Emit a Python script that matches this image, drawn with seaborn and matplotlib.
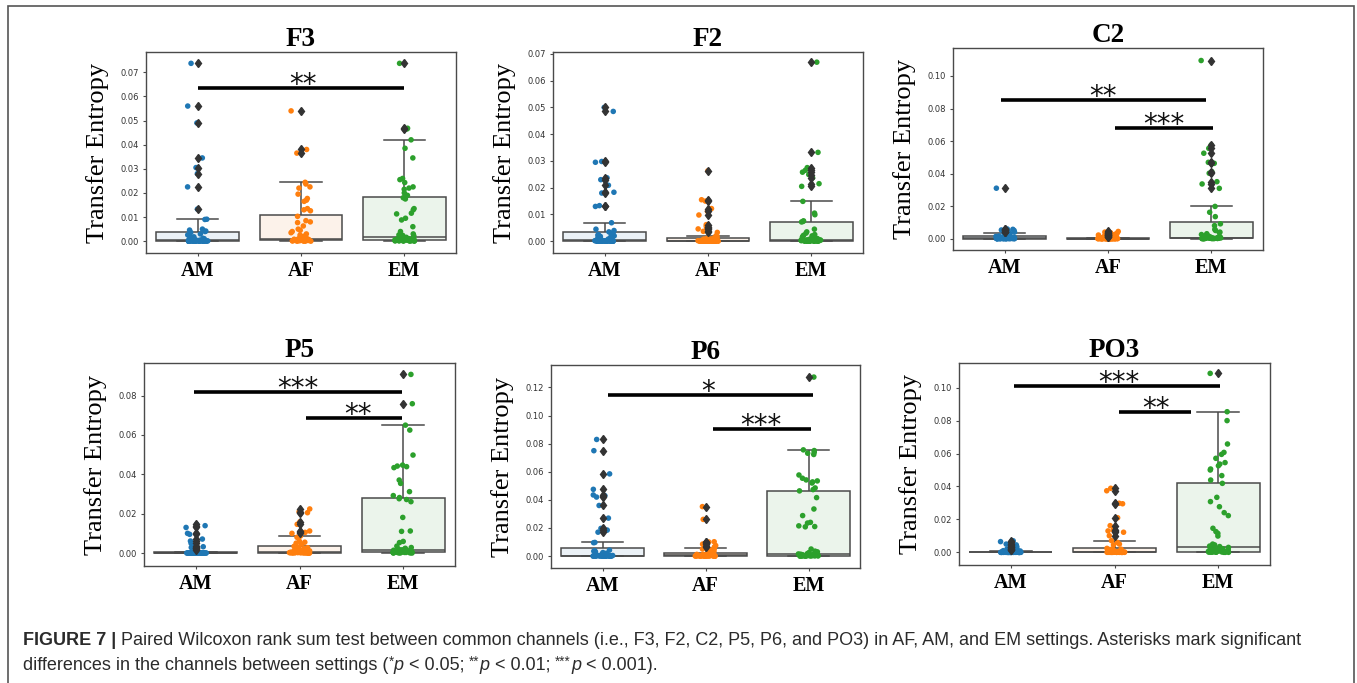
import numpy as np
import pandas as pd
import matplotlib
matplotlib.use("Agg")
import matplotlib.pyplot as plt
from matplotlib.patches import Rectangle
from matplotlib.ticker import MultipleLocator, FormatStrFormatter
import seaborn as sns

# transfer entropy per subject pair, in units of 1e-3
F3_AM = [73.7, 56.0, 49.0, 34.5, 30.5, 28.0, 22.5, 13.3, 9.1, 9.0, 5.0, 4.6, 4.2, 4.0,
         3.6, 3.0, 2.6, 2.2, 1.8, 1.5, 1.2, 1.0, 0.9, 0.8, 0.7, 0.6, 0.5, 0.4,
         0.3, 0.3, 0.2, 0.2, 0.2, 0.2, 0.1, 0.1, 0.1, 0.1, 0.1, 0.1, 0, 0,
         0, 0, 0, 0, 0, 0, 0, 0, 0, 0, 0, 0, 0, 0]
F3_AF = [54.0, 38.0, 36.5, 24.4, 23.7, 22.5, 22.0, 19.5, 17.7, 17.0, 16.5, 13.5, 13.0, 12.6,
         10.3, 8.5, 8.0, 7.7, 6.3, 5.0, 4.5, 4.0, 3.5, 3.0, 2.5, 2.0, 1.5, 1.1,
         0.9, 0.8, 0.8, 0.7, 0.7, 0.7, 0.6, 0.6, 0.6, 0.5, 0.5, 0.5, 0.5, 0.4,
         0.4, 0.4, 0.3, 0.3, 0.3, 0.2, 0.2, 0.2, 0.1, 0.1, 0.1, 0, 0, 0]
F3_EM = [73.7, 46.8, 46.5, 42.0, 38.5, 34.5, 26.0, 25.5, 24.3, 22.5, 22.0, 21.5, 20.0, 19.0,
         18.0, 17.5, 13.5, 13.0, 11.6, 11.3, 9.5, 8.8, 6.0, 4.0, 3.0, 2.6, 2.4, 2.2,
         1.6, 1.3, 1.2, 1.0, 1.0, 0.9, 0.8, 0.8, 0.7, 0.7, 0.6, 0.6, 0.5, 0.5,
         0.5, 0.4, 0.4, 0.4, 0.3, 0.3, 0.3, 0.2, 0.2, 0.1, 0.1, 0, 0, 0]

F2_AM = [50.0, 48.5, 29.8, 29.5, 23.7, 23.0, 20.9, 18.3, 18.0, 13.3, 13.0, 6.9, 4.5, 4.0,
         3.5, 3.2, 2.8, 2.5, 2.2, 2.0, 1.8, 1.5, 1.2, 1.0, 0.8, 0.6, 0.5, 0.4,
         0.3, 0.3, 0.2, 0.2, 0.2, 0.2, 0.1, 0.1, 0.1, 0.1, 0.1, 0.1, 0, 0,
         0, 0, 0, 0, 0, 0, 0, 0, 0, 0, 0, 0, 0, 0]
F2_AF = [26.3, 15.5, 15.0, 12.2, 11.2, 9.8, 6.2, 5.5, 5.0, 4.6, 3.7, 3.3, 2.0, 1.8,
         1.1, 1.0, 0.9, 0.8, 0.8, 0.7, 0.6, 0.5, 0.5, 0.4, 0.4, 0.3, 0.3, 0.3,
         0.2, 0.2, 0.2, 0.2, 0.1, 0.1, 0.1, 0.1, 0.1, 0.1, 0, 0, 0, 0,
         0, 0, 0, 0, 0, 0, 0, 0, 0, 0, 0, 0, 0, 0]
F2_EM = [66.9, 33.2, 27.5, 26.5, 25.8, 24.9, 23.7, 21.5, 20.5, 14.9, 10.5, 9.9, 7.6, 7.4,
         7.2, 4.5, 3.5, 3.0, 2.5, 2.2, 2.0, 1.8, 1.5, 1.2, 1.0, 0.8, 0.7, 0.6,
         0.5, 0.5, 0.5, 0.4, 0.4, 0.4, 0.4, 0.3, 0.3, 0.3, 0.3, 0.2, 0.2, 0.2,
         0.2, 0.2, 0.1, 0.1, 0.1, 0.1, 0.1, 0, 0, 0, 0, 0, 0, 0]

C2_AM = [31.0, 5.9, 5.7, 5.3, 5.0, 4.6, 4.3, 4.0, 3.8, 3.3, 2.8, 2.4, 2.0, 1.6,
         1.35, 1.2, 1.1, 1.0, 0.9, 0.8, 0.7, 0.6, 0.5, 0.5, 0.4, 0.4, 0.3, 0.3,
         0.2, 0.2, 0.2, 0.2, 0.1, 0.1, 0.1, 0.1, 0.1, 0.1, 0, 0, 0, 0,
         0, 0, 0, 0, 0, 0, 0, 0, 0, 0, 0, 0, 0, 0]
C2_AF = [4.4, 4.0, 3.6, 3.3, 3.0, 2.8, 2.5, 2.2, 2.0, 1.8, 1.5, 1.3, 1.0, 0.6,
         0.2, 0.2, 0.2, 0.1, 0.1, 0.1, 0.1, 0, 0, 0, 0, 0, 0, 0,
         0, 0, 0, 0, 0, 0, 0, 0, 0, 0, 0, 0, 0, 0,
         0, 0, 0, 0, 0, 0, 0, 0, 0, 0, 0, 0, 0, 0]
C2_EM = [109.5, 57.6, 55.5, 52.5, 46.9, 46.3, 41.2, 40.2, 35.0, 33.6, 30.9, 19.8, 16.2, 13.5,
         9.1, 8.0, 5.7, 5.0, 4.0, 3.5, 3.0, 2.5, 2.0, 1.6, 1.3, 1.0, 0.8, 0.7,
         0.6, 0.6, 0.5, 0.5, 0.5, 0.4, 0.4, 0.4, 0.4, 0.3, 0.3, 0.3, 0.3, 0.3,
         0.2, 0.2, 0.2, 0.2, 0.1, 0.1, 0.1, 0.1, 0, 0, 0, 0, 0, 0]

P5_AM = [14.6, 13.9, 13.0, 10.0, 9.5, 7.1, 6.1, 4.9, 3.6, 3.2, 2.8, 2.5, 2.0, 1.6,
         0.1, 0.1, 0.1, 0.1, 0, 0, 0, 0, 0, 0, 0, 0, 0, 0,
         0, 0, 0, 0, 0, 0, 0, 0, 0, 0, 0, 0, 0, 0,
         0, 0, 0, 0, 0, 0, 0, 0, 0, 0, 0, 0, 0, 0]
P5_AF = [22.4, 21.0, 20.5, 15.9, 14.6, 11.2, 10.5, 10.0, 8.6, 8.0, 6.0, 5.5, 5.0, 4.5,
         3.4, 3.0, 2.7, 2.4, 2.0, 1.8, 1.5, 1.3, 1.1, 1.0, 0.9, 0.8, 0.7, 0.6,
         0.5, 0.5, 0.5, 0.4, 0.4, 0.4, 0.4, 0.3, 0.3, 0.3, 0.3, 0.3, 0.2, 0.2,
         0.2, 0.2, 0.2, 0.1, 0.1, 0.1, 0.1, 0.1, 0, 0, 0, 0, 0, 0]
P5_EM = [90.8, 75.9, 65.0, 62.5, 49.8, 44.7, 44.2, 43.9, 43.4, 37.1, 35.4, 31.2, 29.2, 28.2,
         27.6, 27.2, 26.1, 18.1, 11.2, 11.0, 5.9, 5.3, 3.5, 2.8, 2.4, 2.0, 1.8, 1.6,
         1.4, 1.3, 1.2, 1.1, 1.0, 0.9, 0.8, 0.8, 0.7, 0.7, 0.6, 0.6, 0.5, 0.5,
         0.4, 0.4, 0.4, 0.3, 0.3, 0.3, 0.2, 0.2, 0.2, 0.1, 0.1, 0, 0, 0]

P6_AM = [83.0, 75.0, 58.5, 47.5, 43.5, 43.0, 42.0, 36.0, 27.0, 19.7, 18.5, 17.0, 9.7, 9.5,
         4.2, 3.8, 3.5, 3.0, 2.5, 2.0, 1.6, 1.3, 1.0, 0.8, 0.6, 0.5, 0.4, 0.4,
         0.3, 0.3, 0.2, 0.2, 0.2, 0.2, 0.1, 0.1, 0.1, 0.1, 0.1, 0.1, 0, 0,
         0, 0, 0, 0, 0, 0, 0, 0, 0, 0, 0, 0, 0, 0]
P6_AF = [35.2, 26.1, 10.2, 10.0, 9.0, 8.5, 7.5, 6.5, 5.7, 5.5, 5.0, 4.5, 4.0, 3.5,
         2.0, 1.8, 1.6, 1.5, 1.3, 1.2, 1.0, 0.9, 0.8, 0.7, 0.6, 0.6, 0.5, 0.5,
         0.4, 0.4, 0.3, 0.3, 0.3, 0.2, 0.2, 0.2, 0.2, 0.1, 0.1, 0.1, 0.1, 0.1,
         0.1, 0, 0, 0, 0, 0, 0, 0, 0, 0, 0, 0, 0, 0]
P6_EM = [127.4, 75.6, 75.1, 73.9, 73.2, 72.3, 57.7, 55.4, 54.2, 53.5, 52.8, 52.0, 48.5, 47.3,
         46.4, 41.6, 33.5, 28.8, 24.0, 23.5, 21.5, 21.0, 20.8, 5.0, 3.5, 3.0, 2.5, 1.8,
         1.5, 1.3, 1.2, 1.0, 1.0, 0.9, 0.8, 0.7, 0.7, 0.6, 0.5, 0.5, 0.4, 0.4,
         0.3, 0.3, 0.3, 0.2, 0.2, 0.2, 0.1, 0.1, 0.1, 0, 0, 0, 0, 0]

PO3_AM = [7.0, 6.5, 5.0, 4.5, 3.8, 3.4, 3.0, 2.6, 2.2, 2.0, 1.6, 1.3, 1.0, 0.8,
          0.3, 0.2, 0.2, 0.1, 0.1, 0.1, 0.1, 0.1, 0, 0, 0, 0, 0, 0,
          0, 0, 0, 0, 0, 0, 0, 0, 0, 0, 0, 0, 0, 0,
          0, 0, 0, 0, 0, 0, 0, 0, 0, 0, 0, 0, 0, 0]
PO3_AF = [38.9, 37.4, 29.8, 29.5, 21.0, 16.2, 13.6, 13.0, 12.2, 10.1, 7.1, 6.0, 5.0, 4.5,
          2.4, 2.1, 1.9, 1.7, 1.5, 1.3, 1.2, 1.0, 0.9, 0.8, 0.7, 0.6, 0.6, 0.5,
          0.4, 0.4, 0.3, 0.3, 0.3, 0.2, 0.2, 0.2, 0.1, 0.1, 0.1, 0.1, 0.1, 0.1,
          0, 0, 0, 0, 0, 0, 0, 0, 0, 0, 0, 0, 0, 0]
PO3_EM = [108.7, 85.4, 80.0, 65.8, 60.7, 59.5, 57.1, 54.5, 53.6, 52.6, 50.6, 50.0, 46.6, 43.9,
          41.9, 33.4, 30.8, 27.7, 24.1, 22.3, 14.6, 12.6, 11.5, 9.9, 5.0, 4.5, 3.8, 3.5,
          3.0, 2.5, 2.2, 2.0, 1.8, 1.6, 1.4, 1.2, 1.0, 0.9, 0.8, 0.7, 0.6, 0.5,
          0.4, 0.4, 0.3, 0.3, 0.3, 0.2, 0.2, 0.2, 0.1, 0.1, 0.1, 0, 0, 0]

channels = ["F3", "F2", "C2", "P5", "P6", "PO3"]
settings = ["AM", "AF", "EM"]
te_values = {
    "F3": [F3_AM, F3_AF, F3_EM],
    "F2": [F2_AM, F2_AF, F2_EM],
    "C2": [C2_AM, C2_AF, C2_EM],
    "P5": [P5_AM, P5_AF, P5_EM],
    "P6": [P6_AM, P6_AF, P6_EM],
    "PO3": [PO3_AM, PO3_AF, PO3_EM],
}

# significance bars: (from, to, height in 1e-3, stars, star position)
sig_bars = {
    "F3": [(0.0, 2.0, 63.4, "**", 1.02)],
    "F2": [],
    "C2": [(-0.04, 1.95, 85.2, "**", 0.95), (1.07, 2.02, 67.8, "***", 1.54)],
    "P5": [(-0.02, 1.99, 81.7, "***", 0.98), (1.06, 1.99, 68.8, "**", 1.56)],
    "P6": [(0.05, 2.04, 114.8, "*", 1.03), (1.07, 2.02, 90.5, "***", 1.54)],
    "PO3": [(0.03, 2.02, 101.2, "***", 1.04), (1.04, 1.74, 85.4, "**", 1.40)],
}

# ---- layout / style ----
W, H = 1357, 683
panel_px = {  # left, top, right, bottom of each axes in pixels
    "F3": (146, 52, 456, 253),
    "F2": (553, 52, 863, 253),
    "C2": (953, 48, 1263, 250),
    "P5": (144, 363, 455, 566),
    "P6": (551, 365, 860, 568),
    "PO3": (959, 363, 1270, 565),
}
ylims = {
    "F3": (-0.0049, 0.0784), "F2": (-0.0044, 0.0707), "C2": (-0.0070, 0.1172),
    "P5": (-0.0066, 0.0966), "P6": (-0.0085, 0.1360), "PO3": (-0.0077, 0.1150),
}
ysteps = {"F3": 0.01, "F2": 0.01, "C2": 0.02, "P5": 0.02, "P6": 0.02, "PO3": 0.02}

point_colors = ["#1f77b4", "#ff7f0e", "#2ca02c"]
box_colors = ["#e9f1f8", "#fff2e7", "#eaf5ea"]
serif = "Liberation Serif"
edge = "#4a4a4a"

np.random.seed(11)  # only for the strip jitter

fig = plt.figure(figsize=(W / 100, H / 100), dpi=100)

for ch in channels:
    l, t, r, b = panel_px[ch]
    ax = fig.add_axes([l / W, 1 - b / H, (r - l) / W, (b - t) / H])
    groups = te_values[ch]
    df = pd.DataFrame({
        "setting": np.repeat(settings, [len(g) for g in groups]),
        "te": np.concatenate([np.asarray(g, dtype=float) for g in groups]) / 1000.0,
    })

    sns.boxplot(data=df, x="setting", y="te", hue="setting", order=settings,
                hue_order=settings, palette=box_colors, linecolor=edge,
                linewidth=1.1, width=0.8, legend=False, ax=ax,
                flierprops=dict(marker="d", markersize=4.5, markerfacecolor="#333333",
                                markeredgecolor="#333333", zorder=3))
    sns.stripplot(data=df, x="setting", y="te", hue="setting", order=settings,
                  hue_order=settings, palette=point_colors, size=4, jitter=0.1,
                  legend=False, ax=ax, zorder=2.5)

    for x0, x1, yv, stars, tx in sig_bars[ch]:
        ax.plot([x0, x1], [yv / 1000, yv / 1000], color="black", lw=2.6,
                solid_capstyle="butt", zorder=4)
        ax.annotate(stars, xy=(tx, yv / 1000), xytext=(0, -3.5), textcoords="offset points",
                    ha="center", va="baseline", fontsize=20, family="DejaVu Sans",
                    color="#111111", zorder=4)

    ax.set_xlim(-0.5, 2.5)
    ax.set_ylim(*ylims[ch])
    ax.yaxis.set_major_locator(MultipleLocator(ysteps[ch]))
    ax.yaxis.set_major_formatter(FormatStrFormatter("%.2f"))
    ax.set_xlabel("")
    ax.set_ylabel("Transfer Entropy", family=serif, fontsize=19, labelpad=8)
    ax.set_title(ch, family=serif, fontsize=19.5, fontweight="bold", pad=3.5)
    ax.tick_params(axis="y", labelsize=6, labelcolor="#333333", length=2.5, width=0.8,
                   color=edge, pad=2.5)
    ax.tick_params(axis="x", length=2.5, width=0.8, color=edge, pad=3)
    for lab in ax.get_xticklabels():
        lab.set_family(serif)
        lab.set_fontsize(14.5)
        lab.set_fontweight("bold")
    for sp in ax.spines.values():
        sp.set_color(edge)
        sp.set_linewidth(1.0)

# outer frame of the figure panel
fig.add_artist(Rectangle((8 / W, -0.02), (1354 - 8) / W, 1 - 6 / H + 0.02,
                         transform=fig.transFigure, fill=False, edgecolor="#555555",
                         lw=1.2, clip_on=False))

# caption, written as consecutive text runs
renderer = fig.canvas.get_renderer()
cap_font = "Liberation Sans"
cap_size = 13
cap_color = "#2b2b2b"


def put_runs(x_px, base_px, runs):
    x = x_px / W
    for text, style in runs:
        kw = dict(family=cap_font, fontsize=cap_size, color=cap_color, va="baseline")
        dy = 0
        if style == "bold":
            kw["fontweight"] = "bold"
        elif style == "italic":
            kw["style"] = "italic"
        elif style == "sup":
            kw["fontsize"] = cap_size * 0.75
            dy = 4
        t = fig.text(x, 1 - (base_px - dy) / H, text, **kw)
        x += t.get_window_extent(renderer=renderer).width / W


put_runs(23, 645, [
    ("FIGURE 7 | ", "bold"),
    ("Paired Wilcoxon rank sum test between common channels (i.e., F3, F2, C2, P5, P6, and PO3) "
     "in AF, AM, and EM settings. Asterisks mark significant", None),
])
put_runs(23, 670, [
    ("differences in the channels between settings (", None),
    ("*", "sup"), ("p", "italic"), (" < 0.05; ", None),
    ("**", "sup"), ("p", "italic"), (" < 0.01; ", None),
    ("***", "sup"), ("p", "italic"), (" < 0.001).", None),
])

fig.savefig("out.png", dpi=100)
